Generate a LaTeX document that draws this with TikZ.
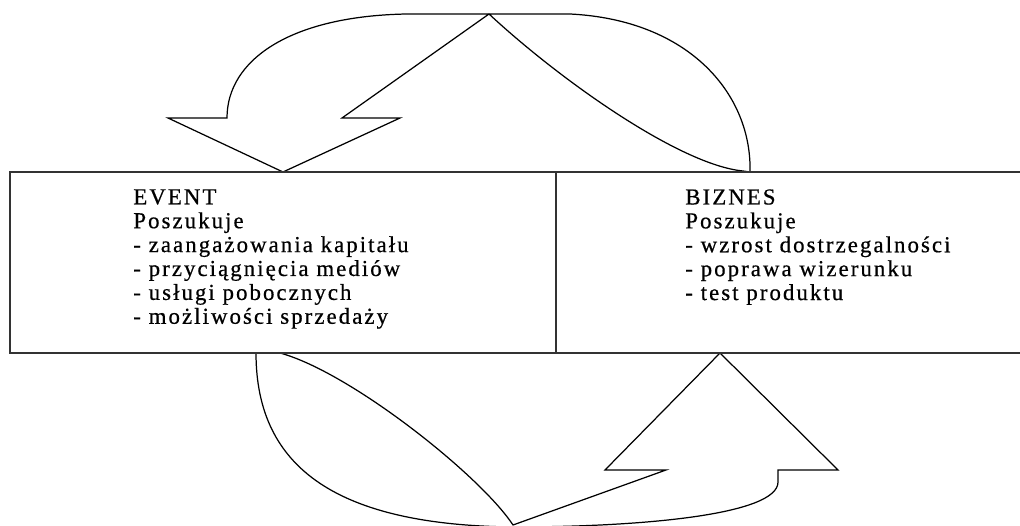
\documentclass[tikz,border=0pt]{standalone}
\usepackage{fontspec}
\newfontfamily\boxfont[LetterSpace=9,FakeBold=0.6]{Liberation Serif}
\usetikzlibrary{positioning}

\begin{document}
\begin{tikzpicture}[x=0.02cm,y=-0.02cm,
  frame/.style={line width=1.1pt,draw=black!80},
  blockarrow/.style={line width=0.7pt,line join=miter},
  listtext/.style={font={\boxfont\fontsize{13}{13.6}\selectfont},align=left,anchor=north west,inner sep=0pt}]
\useasboundingbox (0,0) rectangle (1020,526);
% upper arrow: from BIZNES over the top, down onto EVENT
\draw[blockarrow] (750,172) .. controls (752,95) and (690,20) .. (570,14)
  -- (407,14) .. controls (290,16) and (227,60) .. (227,118)
  -- (168,118) -- (283,172) -- (400,118) -- (342,118) -- (489,14)
  .. controls (560,80) and (680,165) .. (743,171) -- cycle;
% lower arrow: from EVENT under the box, up into BIZNES
\draw[blockarrow] (280,353) -- (256,353) .. controls (256,470) and (340,525) .. (513,527)
  .. controls (640,527) and (778,515) .. (778,482) -- (778,470) -- (838,470) -- (720,353)
  -- (605,470) -- (666,470) -- (513,525)
  .. controls (480,475) and (350,372) .. (280,353);
% the box, open on the right
\draw[frame] (10,172) rectangle (556,353);
\draw[frame] (1030,172) -- (556,172) -- (556,353) -- (1030,353);
\node[listtext] (event) at (133,189) {EVENT\\Poszukuje\\- zaangażowania kapitału\\- przyciągnięcia mediów\\- usługi pobocznych\\- możliwości sprzedaży};
\node[listtext] (biznes) at (685,189) {BIZNES\\Poszukuje\\- wzrost dostrzegalności\\- poprawa wizerunku\\- test produktu};
\end{tikzpicture}
\end{document}
